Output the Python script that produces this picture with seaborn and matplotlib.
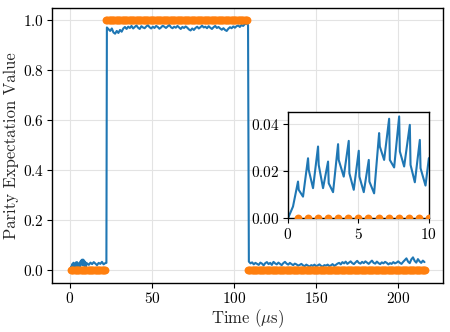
import numpy as np
import pandas as pd
import seaborn as sns
import matplotlib.pyplot as plt

sns.set_style("whitegrid")
plt.rcParams.update({
    "font.family": "serif",
    "font.serif": ["cmr10"],
    "mathtext.fontset": "cm",
    "axes.formatter.use_mathtext": True,
    "axes.edgecolor": "black",
    "axes.linewidth": 1.0,
    "grid.color": "#e3e3e3",
    "grid.linewidth": 0.8,
    "xtick.bottom": True,
    "ytick.left": True,
    "xtick.major.size": 3.5,
    "ytick.major.size": 3.5,
    "xtick.major.pad": 2.5,
    "ytick.major.pad": 2.5,
    "xtick.color": "black",
    "ytick.color": "black",
    "font.size": 11,
})

# measured parity, first 10 us (fine samples, seen in the inset)
t_start = [0.0, 0.355, 0.711, 0.76, 1.066, 1.422, 1.47, 1.777, 2.133, 2.18, 2.488,
           2.844, 2.89, 3.199, 3.555, 3.60, 3.957, 4.313, 4.36, 4.668, 5.024, 5.07,
           5.379, 5.735, 5.78, 6.114, 6.469, 6.52, 6.825, 7.180, 7.23, 7.536, 7.891,
           7.94, 8.246, 8.649, 8.70, 9.005, 9.360, 9.41, 9.763, 10.0]
v_start = [0.0, 0.0050, 0.0156, 0.0121, 0.0092, 0.0255, 0.0206, 0.0128, 0.0305, 0.0227,
           0.0128, 0.0241, 0.0149, 0.0111, 0.0315, 0.0248, 0.0177, 0.0329, 0.0191, 0.0121,
           0.0287, 0.0177, 0.0111, 0.0248, 0.0156, 0.0106, 0.0362, 0.0305, 0.0248, 0.0423,
           0.0248, 0.0216, 0.0433, 0.0284, 0.0220, 0.0397, 0.0227, 0.0153, 0.0333, 0.0213,
           0.0139, 0.0255]

# measured parity, coarse samples every 1 us
low1_t0 = 10.5
low1_v = [0.028, 0.022, 0.031, 0.025, 0.033, 0.027, 0.021, 0.030, 0.026, 0.034, 0.024, 0.029]
rise_t, rise_v = 22.2, 0.030

high_t0 = 22.5
high_v = [0.972, 0.965, 0.958, 0.968, 0.952, 0.947, 0.958, 0.950, 0.962, 0.955, 0.968, 0.974,
          0.966, 0.975, 0.970, 0.978, 0.968, 0.974, 0.980, 0.971, 0.966, 0.977, 0.972, 0.969,
          0.976, 0.981, 0.973, 0.968, 0.975, 0.970, 0.978, 0.974, 0.967, 0.972, 0.979, 0.975,
          0.970, 0.976, 0.982, 0.973, 0.969, 0.975, 0.971, 0.978, 0.972, 0.966, 0.974, 0.970,
          0.976, 0.971, 0.964, 0.960, 0.968, 0.962, 0.970, 0.975, 0.968, 0.973, 0.979, 0.972,
          0.975, 0.969, 0.977, 0.971, 0.966, 0.973, 0.978, 0.970, 0.974, 0.968, 0.963, 0.969,
          0.962, 0.958, 0.967, 0.973, 0.969, 0.976, 0.971, 0.977, 0.980, 0.974, 0.982, 0.978,
          0.985, 0.988, 0.982]

low2_t0 = 109.0
low2_v = [0.035, 0.028, 0.032, 0.024, 0.030, 0.026, 0.022, 0.031, 0.027, 0.020, 0.029, 0.033,
          0.025, 0.030, 0.022, 0.034, 0.028, 0.024, 0.031, 0.026, 0.021, 0.029, 0.034, 0.027,
          0.023, 0.030, 0.025, 0.021, 0.027, 0.024, 0.019, 0.022, 0.026, 0.020, 0.017, 0.023,
          0.019, 0.015, 0.021, 0.018, 0.023, 0.016, 0.020, 0.024, 0.018, 0.015, 0.021, 0.019,
          0.023, 0.017, 0.020, 0.025, 0.018, 0.022, 0.027, 0.030, 0.024, 0.033, 0.028, 0.035,
          0.026, 0.031, 0.036, 0.029, 0.025, 0.032, 0.038, 0.030, 0.027, 0.034, 0.029, 0.036,
          0.031, 0.026, 0.033, 0.039, 0.030, 0.027, 0.035, 0.029, 0.025, 0.032, 0.028, 0.034,
          0.030, 0.024, 0.029, 0.026, 0.033, 0.028, 0.031, 0.036, 0.030, 0.026, 0.034, 0.041,
          0.048, 0.035, 0.029, 0.044, 0.052, 0.038, 0.031, 0.045, 0.036, 0.030, 0.039, 0.033]

# ideal parity: sample period and number of samples at each level
ideal_dt = 0.714
ideal_levels = [0, 1, 0]
ideal_counts = [30, 121, 152]

t_meas = np.concatenate([
    t_start,
    low1_t0 + np.arange(len(low1_v)),
    [rise_t],
    high_t0 + np.arange(len(high_v)),
    low2_t0 + np.arange(len(low2_v)),
])
v_meas = np.concatenate([v_start, low1_v, [rise_v], high_v, low2_v])
meas = pd.DataFrame({"t": t_meas, "v": v_meas})

t_ideal = ideal_dt * np.arange(1, sum(ideal_counts) + 1)
v_ideal = np.repeat(ideal_levels, ideal_counts)
ideal = pd.DataFrame({"t": t_ideal, "v": v_ideal})

blue, orange = "#1f77b4", "#ff7f0e"

fig = plt.figure(figsize=(4.5, 3.32), dpi=100)
ax = fig.add_axes([0.116, 0.148, 0.868, 0.828])
sns.lineplot(data=meas, x="t", y="v", ax=ax, color=blue, lw=1.5, estimator=None, sort=False)
sns.scatterplot(data=ideal, x="t", y="v", ax=ax, color=orange, s=32, linewidth=0, zorder=3)
ax.set_xlabel(r"Time ($\mu$s)", fontsize=12, labelpad=1)
ax.set_ylabel("Parity Expectation Value", fontsize=12, labelpad=3)
ax.set_yticks([0, 0.2, 0.4, 0.6, 0.8, 1.0])
ax.set_xticks([0, 50, 100, 150, 200])
for s in ax.spines.values():
    s.set_color("black")

axin = fig.add_axes([0.64, 0.3425, 0.313, 0.319])
sns.lineplot(data=meas[meas.t <= 10.5], x="t", y="v", ax=axin, color=blue, lw=1.5,
             estimator=None, sort=False)
sns.scatterplot(data=ideal[ideal.t <= 10.5], x="t", y="v", ax=axin, color=orange, s=32,
                linewidth=0, zorder=3)
axin.set_xlim(0, 10)
axin.set_ylim(0, 0.045)
axin.set_xticks([0, 5, 10])
axin.set_yticks([0, 0.02, 0.04])
axin.set_xlabel("")
axin.set_ylabel("")
for s in axin.spines.values():
    s.set_color("black")

fig.savefig("out.png", dpi=100)
